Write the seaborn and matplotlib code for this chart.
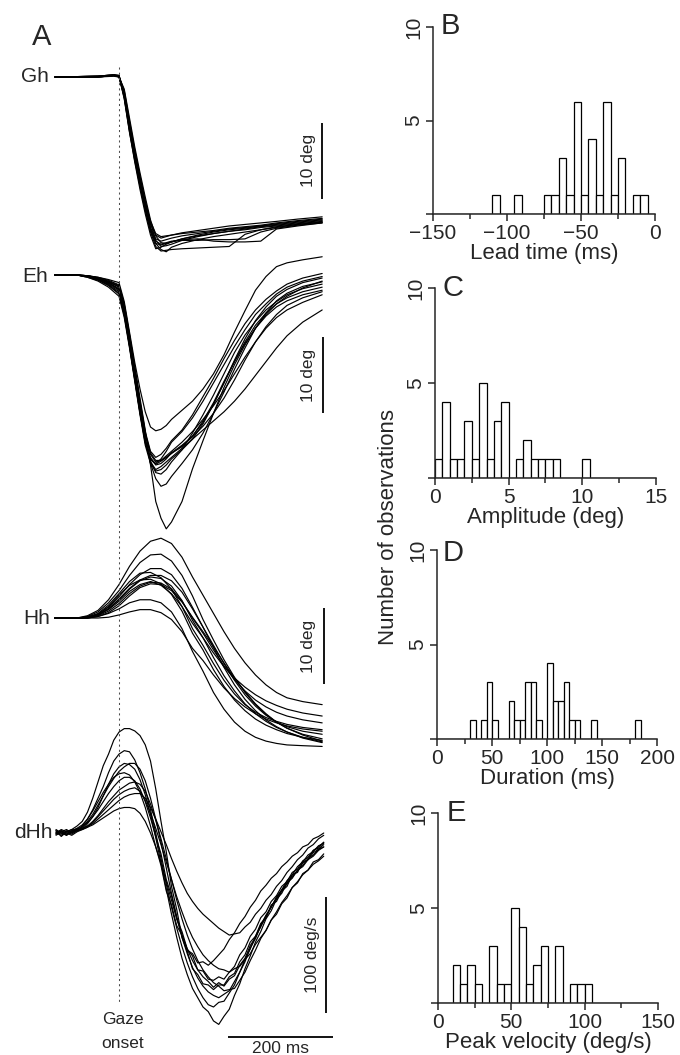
import numpy as np
import pandas as pd
import matplotlib
matplotlib.use("Agg")
import matplotlib.pyplot as plt
import seaborn as sns

# ------------------------------------------------------------------
# Panel A data: traces vs time from gaze onset (ms)
# ------------------------------------------------------------------
t_gh = [-122, -40, -10, 0, 10, 20, 30, 40, 50, 60, 70, 80, 90, 100, 120, 150,
        180, 210, 240, 270, 300, 340, 387]
gh_traces = [
    [0.0, 0.1, 0.3, 0.2, -2.4, -6.6, -10.4, -13.8, -17.0, -19.8, -21.3, -21.6, -21.4, -21.2, -20.9, -20.6, -20.3, -20.0, -19.8, -19.6, -19.3, -19.0, -18.7],
    [0.0, 0.0, 0.2, 0.1, -1.8, -5.8, -9.6, -13.0, -16.2, -19.2, -21.5, -22.3, -22.2, -22.0, -21.5, -21.0, -20.6, -20.3, -20.0, -19.7, -19.5, -19.2, -18.9],
    [0.0, 0.1, 0.3, 0.1, -2.9, -7.3, -11.0, -14.4, -17.6, -20.4, -22.3, -22.9, -22.8, -22.7, -22.6, -22.5, -22.4, -22.3, -20.7, -20.1, -19.7, -19.4, -19.1],
    [0.0, 0.0, 0.2, 0.2, -2.2, -6.2, -10.0, -13.4, -16.6, -19.4, -20.8, -21.2, -21.0, -20.8, -20.5, -20.2, -19.9, -19.6, -19.4, -19.2, -19.0, -18.7, -18.4],
    [0.0, 0.1, 0.2, 0.0, -2.6, -7.0, -10.8, -14.2, -17.4, -20.2, -21.9, -22.1, -21.9, -21.7, -21.4, -21.3, -21.6, -21.7, -21.7, -21.6, -20.0, -19.6, -19.2],
    [0.0, 0.0, 0.1, 0.0, -1.6, -5.4, -9.2, -12.6, -15.8, -18.8, -20.9, -21.8, -21.9, -21.7, -21.3, -20.8, -20.4, -20.1, -19.9, -19.6, -19.4, -19.1, -18.8],
    [0.0, 0.1, 0.3, 0.2, -2.8, -7.2, -11.2, -14.8, -18.0, -20.8, -22.6, -22.4, -22.0, -21.7, -21.3, -20.9, -20.6, -20.3, -20.1, -19.8, -19.6, -19.3, -19.0],
    [0.0, 0.0, 0.2, 0.1, -2.0, -6.0, -9.9, -13.3, -16.4, -19.0, -20.6, -21.0, -20.9, -20.8, -20.6, -20.4, -20.2, -19.9, -19.7, -19.5, -19.2, -18.9, -18.6],
    [0.0, 0.1, 0.2, 0.1, -2.3, -6.5, -10.2, -13.6, -16.9, -19.9, -21.9, -22.7, -23.0, -22.4, -21.9, -21.4, -21.0, -20.7, -20.4, -20.1, -19.8, -19.4, -19.1],
    [0.0, 0.0, 0.2, 0.0, -2.5, -6.8, -10.6, -14.0, -17.2, -20.0, -21.6, -22.0, -21.8, -21.6, -21.5, -21.5, -21.4, -21.4, -21.3, -20.4, -19.9, -19.5, -19.2],
]

t_eh = [-122, -80, -60, -40, -20, 0, 10, 20, 30, 40, 50, 60, 70, 80, 90, 100,
        120, 140, 160, 180, 200, 220, 240, 260, 280, 300, 320, 350, 387]
eh_traces = [
    [0, 0, -0.1, -0.3, -0.6, -1.0, -3.5, -7.5, -11.5, -15.0, -18.0, -20.0, -20.5, -20.3, -19.8, -19.0, -17.8, -16.6, -15.0, -13.0, -10.5, -7.5, -4.7, -2.0, -0.2, 1.1, 1.6, 2.0, 2.4],
    [0, 0, -0.1, -0.4, -0.9, -1.5, -4.0, -8.0, -12.0, -16.2, -20.4, -25.0, -29.8, -32.0, -33.4, -32.5, -29.8, -25.5, -21.8, -18.2, -14.8, -11.8, -9.2, -7.0, -5.2, -3.8, -2.8, -1.7, -0.8],
    [0, 0, -0.2, -0.5, -1.0, -1.8, -4.6, -8.8, -13.2, -17.6, -21.6, -24.8, -26.8, -27.8, -27.5, -26.5, -24.8, -23.0, -20.8, -18.2, -15.4, -12.4, -9.6, -7.0, -5.0, -3.4, -2.4, -1.5, -0.9],
    [0, 0, -0.2, -0.6, -1.2, -2.2, -5.0, -9.2, -13.6, -18.0, -21.8, -24.0, -25.0, -24.8, -24.2, -23.4, -22.4, -21.2, -19.4, -17.0, -14.2, -11.2, -8.4, -6.0, -4.2, -2.8, -1.9, -1.0, -0.4],
    [0, 0, -0.1, -0.4, -0.9, -1.6, -4.2, -8.2, -12.6, -17.0, -21.0, -23.6, -24.6, -24.4, -23.8, -23.2, -22.0, -20.6, -19.0, -17.2, -15.2, -13.0, -10.8, -8.8, -7.0, -5.6, -4.6, -3.6, -2.6],
    [0, 0, -0.3, -0.8, -1.6, -2.8, -5.6, -9.6, -14.0, -18.4, -22.4, -24.8, -25.8, -25.6, -25.0, -24.2, -23.0, -21.6, -19.6, -17.0, -14.2, -11.4, -8.8, -6.6, -5.0, -3.8, -3.0, -2.2, -1.6],
    [0, 0, -0.1, -0.3, -0.7, -1.3, -3.8, -7.8, -12.2, -16.6, -20.6, -23.2, -24.0, -23.6, -22.8, -21.8, -20.4, -18.4, -16.0, -13.6, -11.0, -8.6, -6.4, -4.6, -3.2, -2.1, -1.2, -0.4, 0.2],
    [0, 0, -0.2, -0.5, -1.1, -2.0, -4.8, -9.0, -13.4, -17.8, -21.8, -24.6, -25.6, -25.2, -24.6, -24.0, -22.8, -21.6, -20.4, -19.2, -18.0, -16.6, -15.0, -13.2, -11.4, -9.6, -8.0, -6.2, -4.6],
    [0, 0, -0.2, -0.6, -1.3, -2.4, -5.2, -9.4, -13.8, -18.2, -22.0, -24.2, -24.8, -24.2, -23.2, -22.0, -20.6, -18.8, -16.6, -14.2, -11.8, -9.4, -7.2, -5.2, -3.8, -2.5, -1.6, -0.8, -0.2],
    [0, 0, -0.1, -0.4, -0.8, -1.4, -4.0, -8.0, -12.4, -16.8, -20.8, -23.4, -24.4, -24.4, -24.0, -23.4, -22.6, -21.2, -19.2, -16.8, -14.0, -11.4, -9.0, -7.0, -5.4, -4.2, -3.4, -2.6, -2.0],
    [0, 0, -0.2, -0.5, -1.0, -1.9, -4.7, -8.9, -13.3, -17.7, -21.7, -24.5, -26.0, -26.2, -25.6, -24.6, -23.0, -20.8, -18.4, -15.8, -13.0, -10.2, -7.9, -6.1, -4.6, -3.5, -2.6, -1.8, -1.2],
    [0, 0, -0.3, -0.7, -1.4, -2.5, -5.3, -9.3, -13.7, -18.1, -22.1, -24.3, -24.9, -24.5, -24.0, -23.5, -22.5, -21.3, -19.9, -18.2, -16.2, -13.8, -11.2, -8.8, -6.8, -5.2, -4.0, -3.0, -2.2],
]

t_hh = [-122, -80, -60, -40, -20, 0, 20, 40, 60, 80, 100, 120, 140, 160, 180,
        200, 220, 240, 260, 280, 300, 320, 350, 387]
hh_traces = [
    [0, 0, 0.3, 1.0, 2.4, 4.4, 6.8, 8.8, 10.1, 10.5, 9.8, 8.0, 5.4, 3.0, 0.6, -1.8, -4.0, -5.9, -7.5, -8.8, -9.8, -10.5, -11.0, -11.4],
    [0, 0, 0.2, 0.8, 2.0, 3.6, 5.6, 7.3, 8.3, 8.4, 7.5, 5.6, 2.9, -0.2, -2.9, -5.5, -7.8, -9.8, -11.4, -12.7, -13.7, -14.5, -15.3, -15.9],
    [0, 0, 0.1, 0.5, 1.4, 2.8, 4.4, 5.7, 6.5, 6.5, 5.7, 3.9, 1.4, -1.2, -3.9, -6.5, -8.8, -10.7, -12.2, -13.4, -14.3, -15.0, -15.8, -16.4],
    [0, 0, 0.1, 0.4, 1.2, 2.4, 3.8, 4.9, 5.4, 5.2, 4.2, 2.3, -0.3, -2.6, -5.2, -7.6, -9.6, -11.3, -12.6, -13.6, -14.4, -15.0, -15.7, -16.3],
    [0, 0, 0.1, 0.5, 1.5, 3.0, 4.3, 5.0, 5.1, 4.5, 3.1, 0.9, -2.0, -4.2, -6.8, -9.0, -10.8, -12.2, -13.3, -14.1, -14.7, -15.2, -15.7, -16.1],
    [0, 0, 0.0, 0.3, 0.9, 1.9, 3.2, 4.2, 4.7, 4.6, 3.8, 2.2, 0.0, -2.0, -4.2, -6.3, -8.1, -9.6, -10.8, -11.7, -12.4, -12.9, -13.4, -13.8],
    [0, 0, 0.1, 0.6, 1.7, 3.2, 4.8, 5.9, 6.0, 5.3, 3.8, 1.5, -1.4, -3.6, -6.0, -8.2, -10.0, -11.4, -12.4, -13.1, -13.6, -14.0, -14.4, -14.7],
    [0, 0, 0.0, 0.2, 0.7, 1.6, 2.9, 4.0, 4.5, 4.4, 3.6, 2.1, 0.1, -1.8, -3.8, -5.9, -7.9, -9.7, -11.3, -12.6, -13.7, -14.5, -15.4, -16.2],
    [0, 0, 0.1, 0.4, 1.1, 2.2, 3.5, 4.4, 4.8, 4.3, 3.2, 1.5, -0.7, -2.6, -4.6, -6.4, -7.9, -9.1, -10.1, -10.9, -11.5, -12.0, -12.5, -12.9],
    [0, 0, 0.0, 0.2, 0.6, 1.2, 2.0, 2.4, 2.4, 2.0, 0.8, -1.4, -4.4, -7.0, -9.8, -12.0, -13.7, -14.9, -15.7, -16.2, -16.5, -16.7, -16.8, -16.9],
    [0, 0, 0.0, 0.0, 0.1, 0.4, 0.8, 1.1, 1.1, 0.7, -0.2, -1.8, -4.0, -5.6, -7.5, -9.2, -10.6, -11.7, -12.6, -13.3, -13.8, -14.2, -14.6, -14.9],
    [0, 0, 0.1, 0.4, 1.2, 2.5, 3.9, 5.0, 5.6, 5.6, 4.9, 3.4, 1.2, -1.2, -3.6, -6.0, -8.2, -10.1, -11.6, -12.8, -13.7, -14.3, -14.9, -15.3],
]

t_dhh = list(range(-120, 391, 10))   # 52 samples
dhh_traces = [
    [2, -3, 1, 3, 6, 10, 18, 30, 44, 58,
     68, 80, 87, 90, 90, 88, 84, 76, 62, 38,
     10, -16, -46, -66, -90, -102, -117, -122, -130, -131,
     -135, -131, -131, -124, -121, -111, -105, -94, -89, -78,
     -73, -62, -59, -50, -46, -36, -34, -25, -23, -15,
     -12, -8],
    [-2, 1, -1, 2, 3, 6, 12, 20, 30, 40,
     52, 62, 68, 71, 70, 63, 52, 38, 20, 0,
     -22, -44, -64, -82, -98, -112, -124, -134, -142, -148,
     -150, -146, -145, -138, -131, -120, -111, -99, -91, -80,
     -73, -63, -57, -49, -44, -36, -33, -26, -23, -17,
     -14, -10],
    [0, 2, -2, 1, 4, 3, 8, 14, 22, 32,
     42, 51, 57, 60, 59, 55, 46, 33, 16, -4,
     -26, -48, -70, -90, -108, -122, -134, -142, -150, -154,
     -162, -165, -158, -152, -140, -130, -117, -106, -94, -85,
     -74, -67, -57, -52, -43, -39, -32, -29, -23, -20,
     -15, -12],
    [1, -1, 2, 0, 3, 5, 9, 14, 20, 27,
     34, 40, 45, 48, 48, 45, 38, 27, 13, -3,
     -18, -40, -54, -74, -85, -100, -106, -118, -119, -126,
     -127, -124, -126, -120, -115, -105, -99, -89, -83, -73,
     -68, -59, -54, -46, -42, -34, -31, -24, -21, -15,
     -13, -8],
    [-1, 2, 0, -2, 1, 3, 5, 9, 14, 19,
     24, 29, 33, 36, 38, 39, 36, 28, 17, 4,
     -10, -25, -40, -55, -68, -80, -90, -98, -105, -110,
     -114, -117, -118, -120, -117, -115, -109, -104, -96, -90,
     -84, -75, -70, -61, -56, -47, -43, -35, -32, -25,
     -23, -18],
    [0, -2, 1, 3, 2, 4, 6, 8, 12, 16,
     20, 24, 28, 31, 33, 34, 34, 30, 22, 12,
     1, -10, -22, -33, -43, -52, -59, -65, -70, -74,
     -78, -82, -85, -88, -87, -86, -81, -77, -70, -65,
     -58, -53, -46, -41, -34, -29, -23, -19, -13, -10,
     -5, -2],
    [2, 0, -1, 1, 2, 3, 5, 7, 10, 13,
     16, 19, 21, 22, 22, 21, 17, 10, 0, -12,
     -26, -42, -58, -74, -88, -100, -110, -118, -124, -128,
     -133, -129, -132, -126, -123, -114, -108, -97, -90, -79,
     -71, -64, -55, -49, -41, -36, -29, -25, -19, -16,
     -11, -9],
    [-1, 1, 3, 0, 2, 5, 10, 16, 24, 32,
     40, 47, 53, 57, 60, 60, 55, 45, 30, 12,
     -8, -30, -52, -72, -90, -104, -116, -125, -132, -137,
     -140, -142, -139, -136, -128, -120, -109, -100, -89, -81,
     -71, -64, -56, -50, -43, -38, -32, -28, -22, -19,
     -14, -12],
    [3, 0, -2, 2, 4, 7, 12, 19, 27, 35,
     42, 48, 51, 52, 50, 44, 35, 22, 6, -12,
     -28, -50, -62, -80, -88, -101, -104, -112, -111, -114,
     -110, -105, -100, -92, -86, -78, -72, -64, -58, -50,
     -45, -39, -35, -29, -25, -20, -17, -12, -10, -5,
     -3, 0],
    [0, 3, 1, -1, 2, 4, 6, 10, 15, 21,
     27, 32, 37, 40, 43, 44, 42, 36, 25, 11,
     -5, -22, -40, -58, -74, -88, -100, -110, -118, -124,
     -129, -132, -136, -135, -134, -127, -120, -110, -101, -91,
     -84, -75, -68, -60, -54, -47, -42, -36, -32, -27,
     -24, -20],
]

# ------------------------------------------------------------------
# Histogram data (bin left edges and counts)
# ------------------------------------------------------------------
lead_left = [-110, -95, -75, -70, -65, -60, -55, -50, -45, -40, -35, -30, -25, -15, -10]
lead_n = [1, 1, 1, 1, 3, 1, 6, 1, 4, 1, 6, 1, 3, 1, 1]

amp_left = [0, 0.5, 1.0, 1.5, 2.0, 2.5, 3.0, 3.5, 4.0, 4.5, 5.5, 6.0, 6.5, 7.0, 7.5, 8.0, 10.0]
amp_n = [1, 4, 1, 1, 3, 1, 5, 1, 3, 4, 1, 2, 1, 1, 1, 1, 1]

dur_left = [30, 40, 45, 50, 65, 70, 75, 80, 85, 90, 100, 105, 110, 115, 120, 125, 140, 180]
dur_n = [1, 1, 3, 1, 2, 1, 1, 3, 3, 1, 4, 2, 2, 3, 1, 1, 1, 1]

vel_left = [10, 15, 20, 25, 35, 40, 45, 50, 55, 60, 65, 70, 80, 90, 95, 100]
vel_n = [2, 1, 2, 1, 3, 1, 1, 5, 4, 1, 2, 3, 3, 1, 1, 1]

# ------------------------------------------------------------------
sns.set_style("ticks")
plt.rcParams["font.family"] = ["Liberation Sans", "DejaVu Sans"]
plt.rcParams["axes.linewidth"] = 1.1

W, H = 680, 1055
fig = plt.figure(figsize=(W / 100, H / 100), dpi=100)


def px_axes(x0, y0, x1, y1):
    return fig.add_axes([x0 / W, 1 - y1 / H, (x1 - x0) / W, (y1 - y0) / H])


def ftext(x, y, s, **kw):
    fig.text(x / W, 1 - y / H, s, **kw)


def long_form(t, traces):
    return pd.DataFrame({
        "t": np.tile(np.asarray(t, float), len(traces)),
        "v": np.concatenate([np.asarray(tr, float) for tr in traces]),
        "trial": np.repeat(np.arange(len(traces)), len(t)),
    })


# ---------------- Panel A layout ----------------
ONSET_PX, MS_PX = 119, 0.525
AX0, AX1 = 45, 345
XLIM = ((AX0 - ONSET_PX) / MS_PX, (AX1 - ONSET_PX) / MS_PX)


def trace_axes(t, traces, base, scale, y0, y1):
    ax = px_axes(AX0, y0, AX1, y1)
    sns.lineplot(data=long_form(t, traces), x="t", y="v", units="trial",
                 estimator=None, color="black", lw=0.85, ax=ax, legend=False,
                 sort=False)
    ax.set_xlim(XLIM)
    ax.set_ylim((base - y1) / scale, (base - y0) / scale)
    ax.set_axis_off()
    return ax


ax_gh = trace_axes(t_gh, gh_traces, 77, 7.6, 50, 270)
ax_eh = trace_axes(t_eh, eh_traces, 275, 7.6, 245, 540)
ax_hh = trace_axes(t_hh, hh_traces, 618, 7.6, 520, 765)
ax_dh = trace_axes(t_dhh, dhh_traces, 833, 1.16, 700, 1055)

# gaze-onset dotted line
ax_ov = px_axes(AX0, 0, AX1, H)
ax_ov.set_xlim(XLIM)
ax_ov.set_ylim(H, 0)
ax_ov.set_axis_off()
ax_ov.vlines(0, 67, 1003, colors="0.3", linestyles=(0, (2, 3)), lw=0.75)

# scale bars
bar_kw = dict(color="black", lw=1.3, clip_on=False, solid_capstyle="butt")
ax_gh.plot([387, 387], [-6, -16], **bar_kw)
ax_eh.plot([389, 389], [-8.2, -18.2], **bar_kw)
ax_hh.plot([390, 390], [1.3, -8.7], **bar_kw)
ax_dh.plot([394, 394], [-55, -155], **bar_kw)
ax_dh.plot([208, 408], [-176, -176], **bar_kw)

small = 12.5
ftext(309, 160, "10 deg", rotation=90, ha="center", va="center", fontsize=small)
ftext(309, 375, "10 deg", rotation=90, ha="center", va="center", fontsize=small)
ftext(309, 646, "10 deg", rotation=90, ha="center", va="center", fontsize=small)
ftext(313, 955, "100 deg/s", rotation=90, ha="center", va="center", fontsize=small)
ftext(281, 1041, "200 ms", ha="center", va="top", fontsize=small)
ftext(123, 1019, "Gaze", ha="center", va="center", fontsize=small)
ftext(123, 1043, "onset", ha="center", va="center", fontsize=small)

ftext(42, 37, "A", ha="center", va="center", fontsize=21)
ftext(49, 76, "Gh", ha="right", va="center", fontsize=15)
ftext(48, 276, "Eh", ha="right", va="center", fontsize=15)
ftext(50, 618, "Hh", ha="right", va="center", fontsize=15)
ftext(53, 833, "dHh", ha="right", va="center", fontsize=15)

# ---------------- Histograms ----------------
hist_specs = [
    ((433, 27, 655, 214), (-150, 0), 5, lead_left, lead_n,
     [-150, -100, -50, 0], [-125, -75, -25], "Lead time (ms)", "B", (441, 26)),
    ((435, 288, 656, 478), (0, 15), 0.5, amp_left, amp_n,
     [0, 5, 10, 15], [2.5, 7.5, 12.5], "Amplitude (deg)", "C", (442, 288)),
    ((437, 550, 657, 739), (0, 200), 5, dur_left, dur_n,
     [0, 50, 100, 150, 200], [25, 75, 125, 175], "Duration (ms)", "D", (443, 553)),
    ((438, 813, 658, 1003), (0, 150), 5, vel_left, vel_n,
     [0, 50, 100, 150], [25, 75, 125], "Peak velocity (deg/s)", "E", (447, 813)),
]

for rect, xl, bw, left, n, ticks, minors, xlabel, letter, lpos in hist_specs:
    ax = px_axes(*rect)
    centers = np.asarray(left, float) + bw / 2
    sns.histplot(x=centers, weights=n, binwidth=bw, binrange=xl, ax=ax,
                 color="white", edgecolor="black", linewidth=0.9, alpha=1)
    ax.set_xlim(xl)
    ax.set_ylim(0, 10)
    ax.set_xticks(ticks)
    ax.set_xticks(minors, minor=True)
    ax.set_yticks([0, 5, 10])
    ax.set_yticklabels(["", "5", "10"])
    ax.tick_params(axis="x", which="major", length=5, width=1.1, labelsize=15, pad=2)
    ax.tick_params(axis="x", which="minor", length=3.5, width=1.1)
    ax.tick_params(axis="y", length=5, width=1.1, labelsize=15, pad=2,
                   labelrotation=90)
    for lab in ax.get_yticklabels():
        lab.set_va("center")
    ax.set_ylabel("")
    ax.set_xlabel(xlabel, fontsize=16, labelpad=0)
    sns.despine(ax=ax)
    ax.patch.set_alpha(0)
    ftext(lpos[0], lpos[1], letter, ha="left", va="center", fontsize=21)

ftext(388, 527, "Number of observations", rotation=90, ha="center",
      va="center", fontsize=16)

fig.savefig("out.png", dpi=100)
